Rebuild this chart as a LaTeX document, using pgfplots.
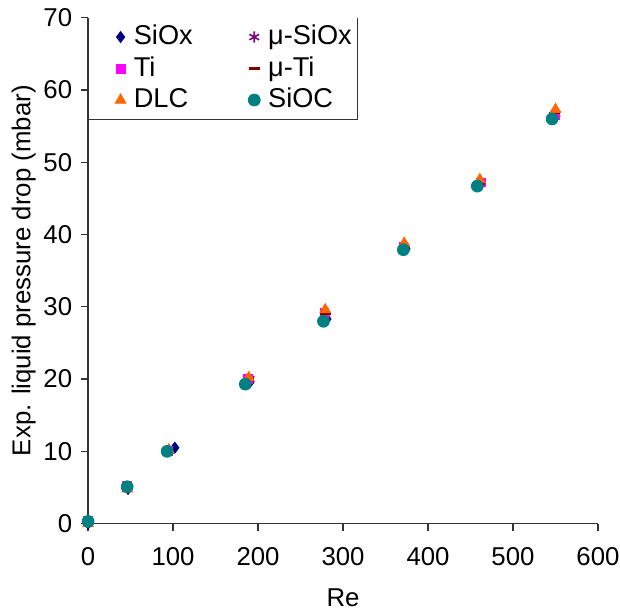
\documentclass[border=0pt]{standalone}
\usepackage{fontspec}
\setmainfont{Liberation Sans}
\usepackage{pgfplots}
\pgfplotsset{compat=1.18}
\definecolor{cSiOx}{HTML}{000080}
\definecolor{cTi}{HTML}{FF00FF}
\definecolor{cDLC}{HTML}{FF6600}
\definecolor{cmuSiOx}{HTML}{800080}
\definecolor{cmuTi}{HTML}{800000}
\definecolor{cSiOC}{HTML}{008080}
\begin{document}
\fontsize{13pt}{15.6pt}\selectfont
\begin{tikzpicture}
\begin{axis}[
  name=ax,
  scale only axis,
  width=257pt, height=255pt,
  xmin=0, xmax=600, ymin=0, ymax=70,
  xtick={0,100,...,600}, ytick={0,10,...,70},
  axis x line*=bottom, axis y line*=left,
  axis line style={black!80, line width=0.6pt, -},
  tick align=outside, major tick length=3.5pt,
  tick style={black!80, line width=0.6pt},
  /pgf/number format/assume math mode=true,
  ticklabel style={font=\fontsize{13pt}{15.6pt}\selectfont},
  xticklabel style={yshift=-3.8pt, inner xsep=0pt},
  xlabel={Re}, ylabel={Exp. liquid pressure drop (mbar)},
  label style={font=\fontsize{13pt}{15.6pt}\selectfont},
  xlabel style={yshift=-6.5pt, inner ysep=1pt},
  ylabel style={yshift=-1.6pt, inner ysep=1pt},
  clip=false,
  legend columns=2,
  legend cell align=left,
  legend style={name=leg, at={(rel axis cs:0,1)}, anchor=north west, xshift=13.5pt,
    draw=none, fill=white,
    inner xsep=0pt, inner ysep=1.6pt,
    font=\fontsize{13.7pt}{16pt}\selectfont,
    nodes={inner xsep=2.5pt},
    /tikz/every even column/.append style={column sep=25.5pt},
    /tikz/every odd column/.append style={column sep=1.5pt},
    row sep=0pt},
  legend image code/.code={\draw[#1] plot coordinates {(0pt,0pt)};},
]
\addplot[only marks, mark=diamond*, mark size=2.8pt, color=cSiOx] coordinates {
(0,0) (47,4.8) (102,10.5) (190,19.5) (281,28.3) (374,38) (458,46.8) (550,56.5)};
\addlegendentry{SiOx}
\addplot[only marks, mark=asterisk, mark size=2.8pt, color=cmuSiOx, line width=0.8pt] coordinates {
(0,0.2) (46,5) (95,10.1) (190,20) (279,29) (372,38.3) (461,47) (550,56.7)};
\addlegendentry{μ-SiOx}
\addplot[only marks, mark=square*, mark size=2.2pt, color=cTi] coordinates {
(0,0.4) (46,5.2) (94,10.1) (188,20) (278,29.2) (371,38.3) (462,47.2) (549,56.5)};
\addlegendentry{Ti}
\addplot[only marks, mark=-, mark size=2.8pt, color=cmuTi, line width=1.3pt] coordinates {
(0,0.2) (46,5) (95,10) (189,20) (279,29) (372,38.3) (461,47) (549,56.8)};
\addlegendentry{μ-Ti}
\addplot[only marks, mark=triangle*, mark size=3.1pt, color=cDLC] coordinates {
(0,0) (46,4.8) (95,10.2) (189,20.2) (279,29.6) (372,38.8) (461,47.6) (550,57.3)};
\addlegendentry{DLC}
\addplot[only marks, mark=*, mark size=3pt, color=cSiOC] coordinates {
(0,0.3) (46,5.1) (93,10) (185,19.3) (277,28) (371,37.9) (458,46.7) (546,56)};
\addlegendentry{SiOC}
\end{axis}
\draw[black!80, line width=0.6pt] (leg.north east) -- (leg.south east) -- (leg.south -| ax.north west);
\path ([xshift=-44.4pt,yshift=-44.4pt]ax.south west) rectangle ([xshift=11.1pt,yshift=8.1pt]ax.north east);
\end{tikzpicture}
\end{document}
